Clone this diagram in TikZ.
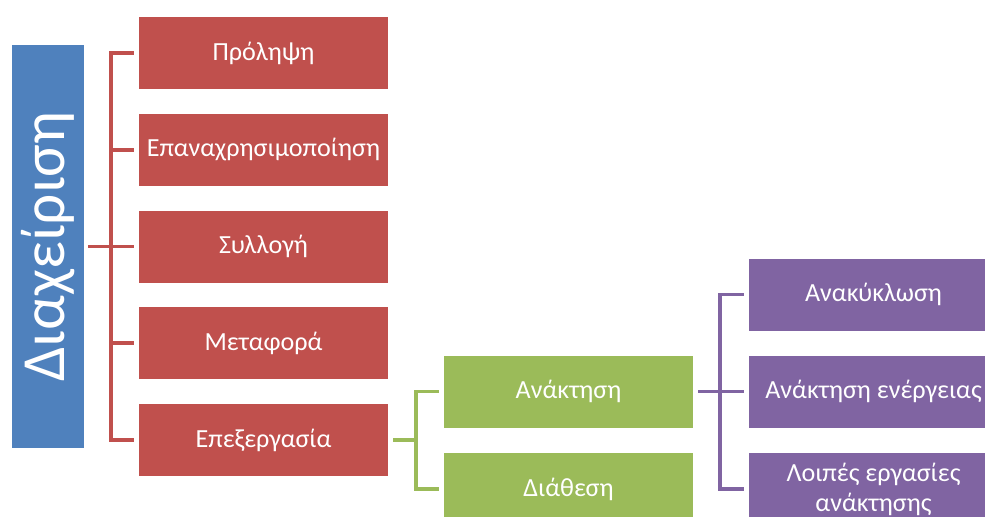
\documentclass[tikz,border=0pt]{standalone}
\usepackage{fontspec}
\setmainfont{Carlito}
\usetikzlibrary{calc}
\definecolor{rootblue}{HTML}{4F81BD}
\definecolor{stagered}{HTML}{C0504D}
\definecolor{subgreen}{HTML}{9BBB59}
\definecolor{leafpurple}{HTML}{8064A2}
\tikzset{
  x=0.75pt, y=-0.75pt,
  box/.style={draw=none, minimum width=186.75pt, minimum height=54pt,
    inner sep=0pt, align=center, text=white, font=\fontsize{19.6}{22.5}\selectfont},
  redbox/.style={box, fill=stagered},
  greenbox/.style={box, fill=subgreen},
  purplebox/.style={box, fill=leafpurple},
  link/.style={line width=2.8pt, line cap=butt, line join=miter},
}
\begin{document}
\begin{tikzpicture}
\useasboundingbox (0,0) rectangle (985,517);
\clip (0,0) rectangle (985,517);

% root
\node[rotate=90, fill=rootblue, minimum width=302.25pt, minimum height=54pt,
      inner sep=0pt, text=white, font=\fontsize{46}{50}\selectfont]
      (root) at (48,246.5) {Διαχείριση};

% stages
\node[redbox] (p1) at (263.5,53)     {Πρόληψη};
\node[redbox] (p2) at (263.5,149.75) {Επαναχρησιμοποίηση};
\node[redbox] (p3) at (263.5,246.5)  {Συλλογή};
\node[redbox] (p4) at (263.5,343.25) {Μεταφορά};
\node[redbox] (p5) at (263.5,440)    {Επεξεργασία};

% processing
\node[greenbox] (g1) at (568.5,391.5) {Ανάκτηση};
\node[greenbox] (g2) at (568.5,489)   {Διάθεση};

% recovery
\node[purplebox] (v1) at (873.5,294.5) {Ανακύκλωση};
\node[purplebox] (v2) at (873.5,391.5) {Ανάκτηση ενέργειας};
\node[purplebox] (v3) at (873.5,489)   {Λοιπές εργασίες\\ανάκτησης};

% spines
\coordinate (rs) at (111,0);
\coordinate (gs) at (416,0);
\coordinate (vs) at (720,0);

% root -> stages
\draw[link, stagered] ($(root.south)+(4,0)$) -- (rs |- root.south);
\draw[link, stagered] ($(p1.west)+(-5,0)$) -- (rs |- p1.west) -- (rs |- p5.west) -- ($(p5.west)+(-5,0)$);
\foreach \n in {p2,p3,p4}
  \draw[link, stagered] (rs |- \n.west) -- ($(\n.west)+(-5,0)$);

% processing -> recovery / disposal
\draw[link, subgreen] ($(p5.east)+(5,0)$) -- (gs |- p5.east);
\draw[link, subgreen] ($(g1.west)+(-5,0)$) -- (gs |- g1.west) -- (gs |- g2.west) -- ($(g2.west)+(-5,0)$);

% recovery -> its kinds
\draw[link, leafpurple] ($(g1.east)+(5,0)$) -- (vs |- g1.east);
\draw[link, leafpurple] ($(v1.west)+(-5,0)$) -- (vs |- v1.west) -- (vs |- v3.west) -- ($(v3.west)+(-5,0)$);
\draw[link, leafpurple] (vs |- v2.west) -- ($(v2.west)+(-5,0)$);
\end{tikzpicture}
\end{document}
